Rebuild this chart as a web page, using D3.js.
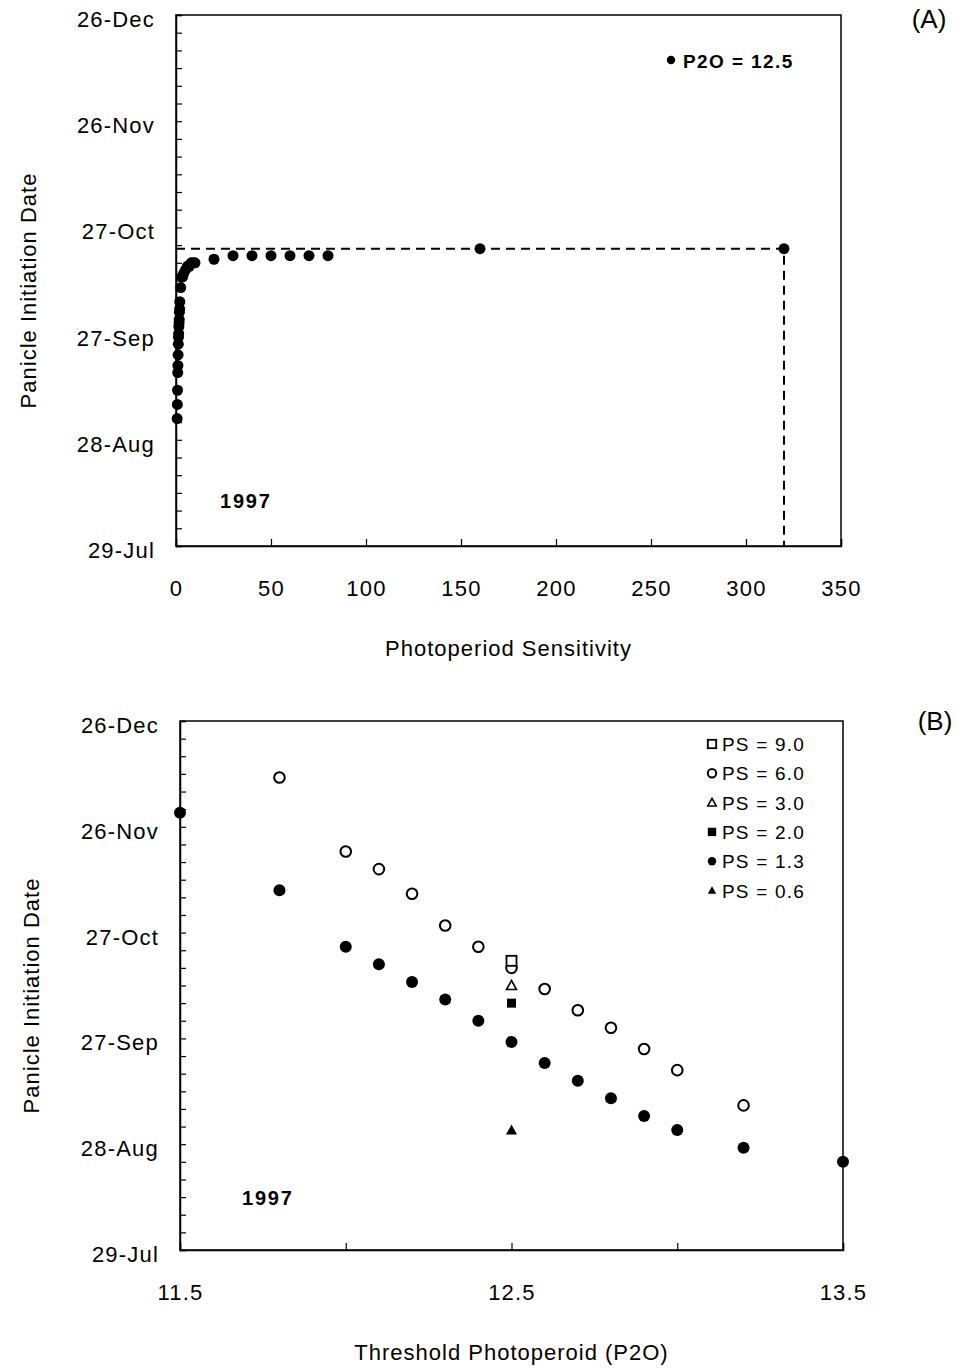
<!DOCTYPE html>
<html>
<head>
<meta charset="utf-8">
<script src="https://cdn.jsdelivr.net/npm/d3@7"></script>
<style>
  body { margin: 0; background: #fff; }
  text { font-family: "Liberation Sans", Arial, sans-serif; fill: #000; }
</style>
</head>
<body>
<div class="chart"></div>
<script>
// -DATA-
// panel A: photoperiod sensitivity vs panicle initiation date (P2O = 12.5)
const psA = [0.6, 0.7, 0.8, 0.9, 1.0, 1.1, 1.2, 1.3, 1.4, 1.5, 1.6, 1.7, 1.8, 1.9, 2.0, 2.5,
             3, 3.5, 4, 5, 6, 7, 8, 9, 10, 20, 30, 40, 50, 60, 70, 80, 160, 320];
const dateA = ["09-03", "09-07", "09-11", "09-16", "09-18", "09-21", "09-24", "09-26", "09-27", "09-29",
               "09-30", "10-01", "10-03", "10-04", "10-06", "10-10",
               "10-13", "10-13", "10-14", "10-15", "10-16", "10-16", "10-17", "10-17", "10-17",
               "10-18", "10-19", "10-19", "10-19", "10-19", "10-19", "10-19", "10-21", "10-21"];

// panel B: threshold photoperiod vs panicle initiation date, one list per PS
const p2oPS6 = [11.8, 12.0, 12.1, 12.2, 12.3, 12.4, 12.5, 12.6, 12.7, 12.8, 12.9, 13.0, 13.2];
const datePS6 = ["12-10", "11-19", "11-14", "11-07", "10-29", "10-23", "10-17", "10-11", "10-05", "09-30", "09-24", "09-18", "09-08"];
const p2oPS13 = [11.5, 11.8, 12.0, 12.1, 12.2, 12.3, 12.4, 12.5, 12.6, 12.7, 12.8, 12.9, 13.0, 13.2, 13.5];
const datePS13 = ["11-30", "11-08", "10-23", "10-18", "10-13", "10-08", "10-02", "09-26", "09-20", "09-15", "09-10", "09-05", "09-01", "08-27", "08-23"];
const p2oPS9 = [12.5],  datePS9 = ["10-19"];
const p2oPS3 = [12.5],  datePS3 = ["10-12"];
const p2oPS2 = [12.5],  datePS2 = ["10-07"];
const p2oPS06 = [12.5], datePS06 = ["09-01"];

const legendB = ["PS = 9.0", "PS = 6.0", "PS = 3.0", "PS = 2.0", "PS = 1.3", "PS = 0.6"];
const xTicksA = [0, 50, 100, 150, 200, 250, 300, 350];
const xTicksB = [11.5, 12.0, 12.5, 13.0, 13.5];

// -SETUP-
const svg_w = 963, svg_h = 1370;
const parseDay = d3.timeParse("%Y-%m-%d");
const day = s => parseDay("1997-" + s);
const dStart = day("07-29"), dEnd = day("12-26");
const fmtDay = d3.timeFormat("%d-%b");
const dayTicks = d3.timeDay.range(dStart, d3.timeDay.offset(dEnd, 1), 5);

const svg = d3.select(".chart").append("svg")
    .attr("width", svg_w).attr("height", svg_h);

// draws frame + axes of one panel, returns scales
function panel(box, xDomain, xTicks, xFmt, xTitle, yTitleX, panelTag, tagX, tagY, yearDx, yearDate) {
    const x = d3.scaleLinear().domain(xDomain).range([box.l, box.r]);
    const y = d3.scaleTime().domain([dStart, dEnd]).range([box.b, box.t]);

    // frame
    svg.append("rect")
        .attr("x", box.l).attr("y", box.t)
        .attr("width", box.r - box.l).attr("height", box.b - box.t)
        .attr("fill", "none").attr("stroke", "#000").attr("stroke-width", 1.5);

    const yAxis = d3.axisLeft(y).tickValues(dayTicks).tickSize(-6).tickPadding(21)
        .tickFormat((d, i) => i % 6 === 0 ? fmtDay(d) : "");
    const gy = svg.append("g").attr("transform", `translate(${box.l},0)`).call(yAxis);

    const xAxis = d3.axisBottom(x).tickValues(xTicks).tickSize(-7).tickPadding(34).tickFormat(xFmt);
    const gx = svg.append("g").attr("transform", `translate(0,${box.b})`).call(xAxis);

    [gx, gy].forEach(g => {
        g.select(".domain").attr("stroke-width", 1.5);
        g.selectAll(".tick line").attr("stroke-width", 1.2);
        g.selectAll("text").attr("font-size", 22).attr("letter-spacing", 1.2)
            .attr("font-family", "'Liberation Sans', Arial, sans-serif");
    });
    gy.selectAll("text").attr("dy", "0.52em");

    // axis titles
    svg.append("text")
        .attr("x", (box.l + box.r) / 2).attr("y", box.b + 110)
        .attr("text-anchor", "middle").attr("font-size", 22).attr("letter-spacing", 1)
        .text(xTitle);
    svg.append("text")
        .attr("transform", `translate(${yTitleX},${(box.t + box.b) / 2 + 10}) rotate(-90)`)
        .attr("text-anchor", "middle").attr("font-size", 22).attr("letter-spacing", 1)
        .text("Panicle Initiation Date");

    // year label
    svg.append("text")
        .attr("x", x(xDomain[0]) + yearDx).attr("y", y(day(yearDate)) + 8)
        .attr("font-size", 20).attr("font-weight", "bold").attr("letter-spacing", 1.8)
        .text("1997");

    // panel letter
    svg.append("text")
        .attr("x", tagX).attr("y", tagY)
        .attr("font-family", "'Liberation Serif', 'Times New Roman', serif")
        .attr("font-size", 26).attr("text-anchor", "middle")
        .text(panelTag);

    return { x, y };
}

// -PANEL A-
const A = panel({ l: 176, r: 841, t: 15, b: 546 }, [0, 350], xTicksA, d3.format("d"),
    "Photoperiod Sensitivity", 36, "(A)", 929, 28, 44, "08-11");

const lastA = psA.length - 1;
const guide = d3.line()([
    [A.x(0), A.y(day(dateA[lastA]))],
    [A.x(psA[lastA]), A.y(day(dateA[lastA]))],
    [A.x(psA[lastA]), A.y(dStart)]
]);
svg.append("path").attr("d", guide)
    .attr("fill", "none").attr("stroke", "#000").attr("stroke-width", 2)
    .attr("stroke-dasharray", "9,6");

svg.append("g").selectAll("circle")
    .data(psA.map((p, i) => ({ p, d: day(dateA[i]) })))
    .enter().append("circle")
    .attr("cx", d => A.x(d.p)).attr("cy", d => A.y(d.d))
    .attr("r", 5.5).attr("fill", "#000");

// legend A
svg.append("circle").attr("cx", 671).attr("cy", 60).attr("r", 4.2).attr("fill", "#000");
svg.append("text").attr("x", 683).attr("y", 68)
    .attr("font-size", 19).attr("font-weight", "bold").attr("letter-spacing", 1.4)
    .text("P2O = 12.5");

// -PANEL B-
const B = panel({ l: 180, r: 843, t: 721, b: 1250 }, [11.5, 13.5], xTicksB,
    v => (Math.abs((v - 11.5) % 1) < 1e-6 ? d3.format(".1f")(v) : ""),
    "Threshold Photoperoid (P2O)", 39, "(B)", 935, 730, 62, "08-13");

// symbol makers
const sym = {
    sqOpen:   (g, s) => g.append("rect").attr("x", -s).attr("y", -s).attr("width", 2 * s).attr("height", 2 * s)
                  .attr("fill", "#fff").attr("stroke", "#000").attr("stroke-width", 1.8),
    cirOpen:  (g, s) => g.append("circle").attr("r", s).attr("fill", "#fff").attr("stroke", "#000").attr("stroke-width", 2),
    triOpen:  (g, s) => g.append("path").attr("d", `M0,${-s}L${s},${s * 0.8}L${-s},${s * 0.8}Z`)
                  .attr("fill", "#fff").attr("stroke", "#000").attr("stroke-width", 1.6),
    sqFill:   (g, s) => g.append("rect").attr("x", -s).attr("y", -s).attr("width", 2 * s).attr("height", 2 * s).attr("fill", "#000"),
    cirFill:  (g, s) => g.append("circle").attr("r", s).attr("fill", "#000"),
    triFill:  (g, s) => g.append("path").attr("d", `M0,${-s}L${s},${s * 0.8}L${-s},${s * 0.8}Z`).attr("fill", "#000")
};

const seriesB = [
    { xs: p2oPS9,  ds: datePS9,  m: "sqOpen",  s: 5 },
    { xs: p2oPS6,  ds: datePS6,  m: "cirOpen", s: 5.3 },
    { xs: p2oPS3,  ds: datePS3,  m: "triOpen", s: 5 },
    { xs: p2oPS2,  ds: datePS2,  m: "sqFill",  s: 4.5 },
    { xs: p2oPS13, ds: datePS13, m: "cirFill", s: 6 },
    { xs: p2oPS06, ds: datePS06, m: "triFill", s: 5.5 }
];

// draw PS=6 first so the PS=9 square sits over it
[1, 0, 2, 3, 4, 5].forEach(k => {
    const sr = seriesB[k];
    sr.xs.forEach((v, i) => {
        const g = svg.append("g")
            .attr("transform", `translate(${B.x(v)},${B.y(day(sr.ds[i]))})`);
        sym[sr.m](g, sr.s);
    });
});

// legend B
legendB.forEach((lab, i) => {
    const yy = 744 + i * 29.3;
    const g = svg.append("g").attr("transform", `translate(712,${yy})`);
    sym[seriesB[i].m](g, 4.2);
    svg.append("text").attr("x", 722).attr("y", yy + 7)
        .attr("font-size", 19).attr("letter-spacing", 1.2)
        .text(lab);
});
</script>
</body>
</html>
